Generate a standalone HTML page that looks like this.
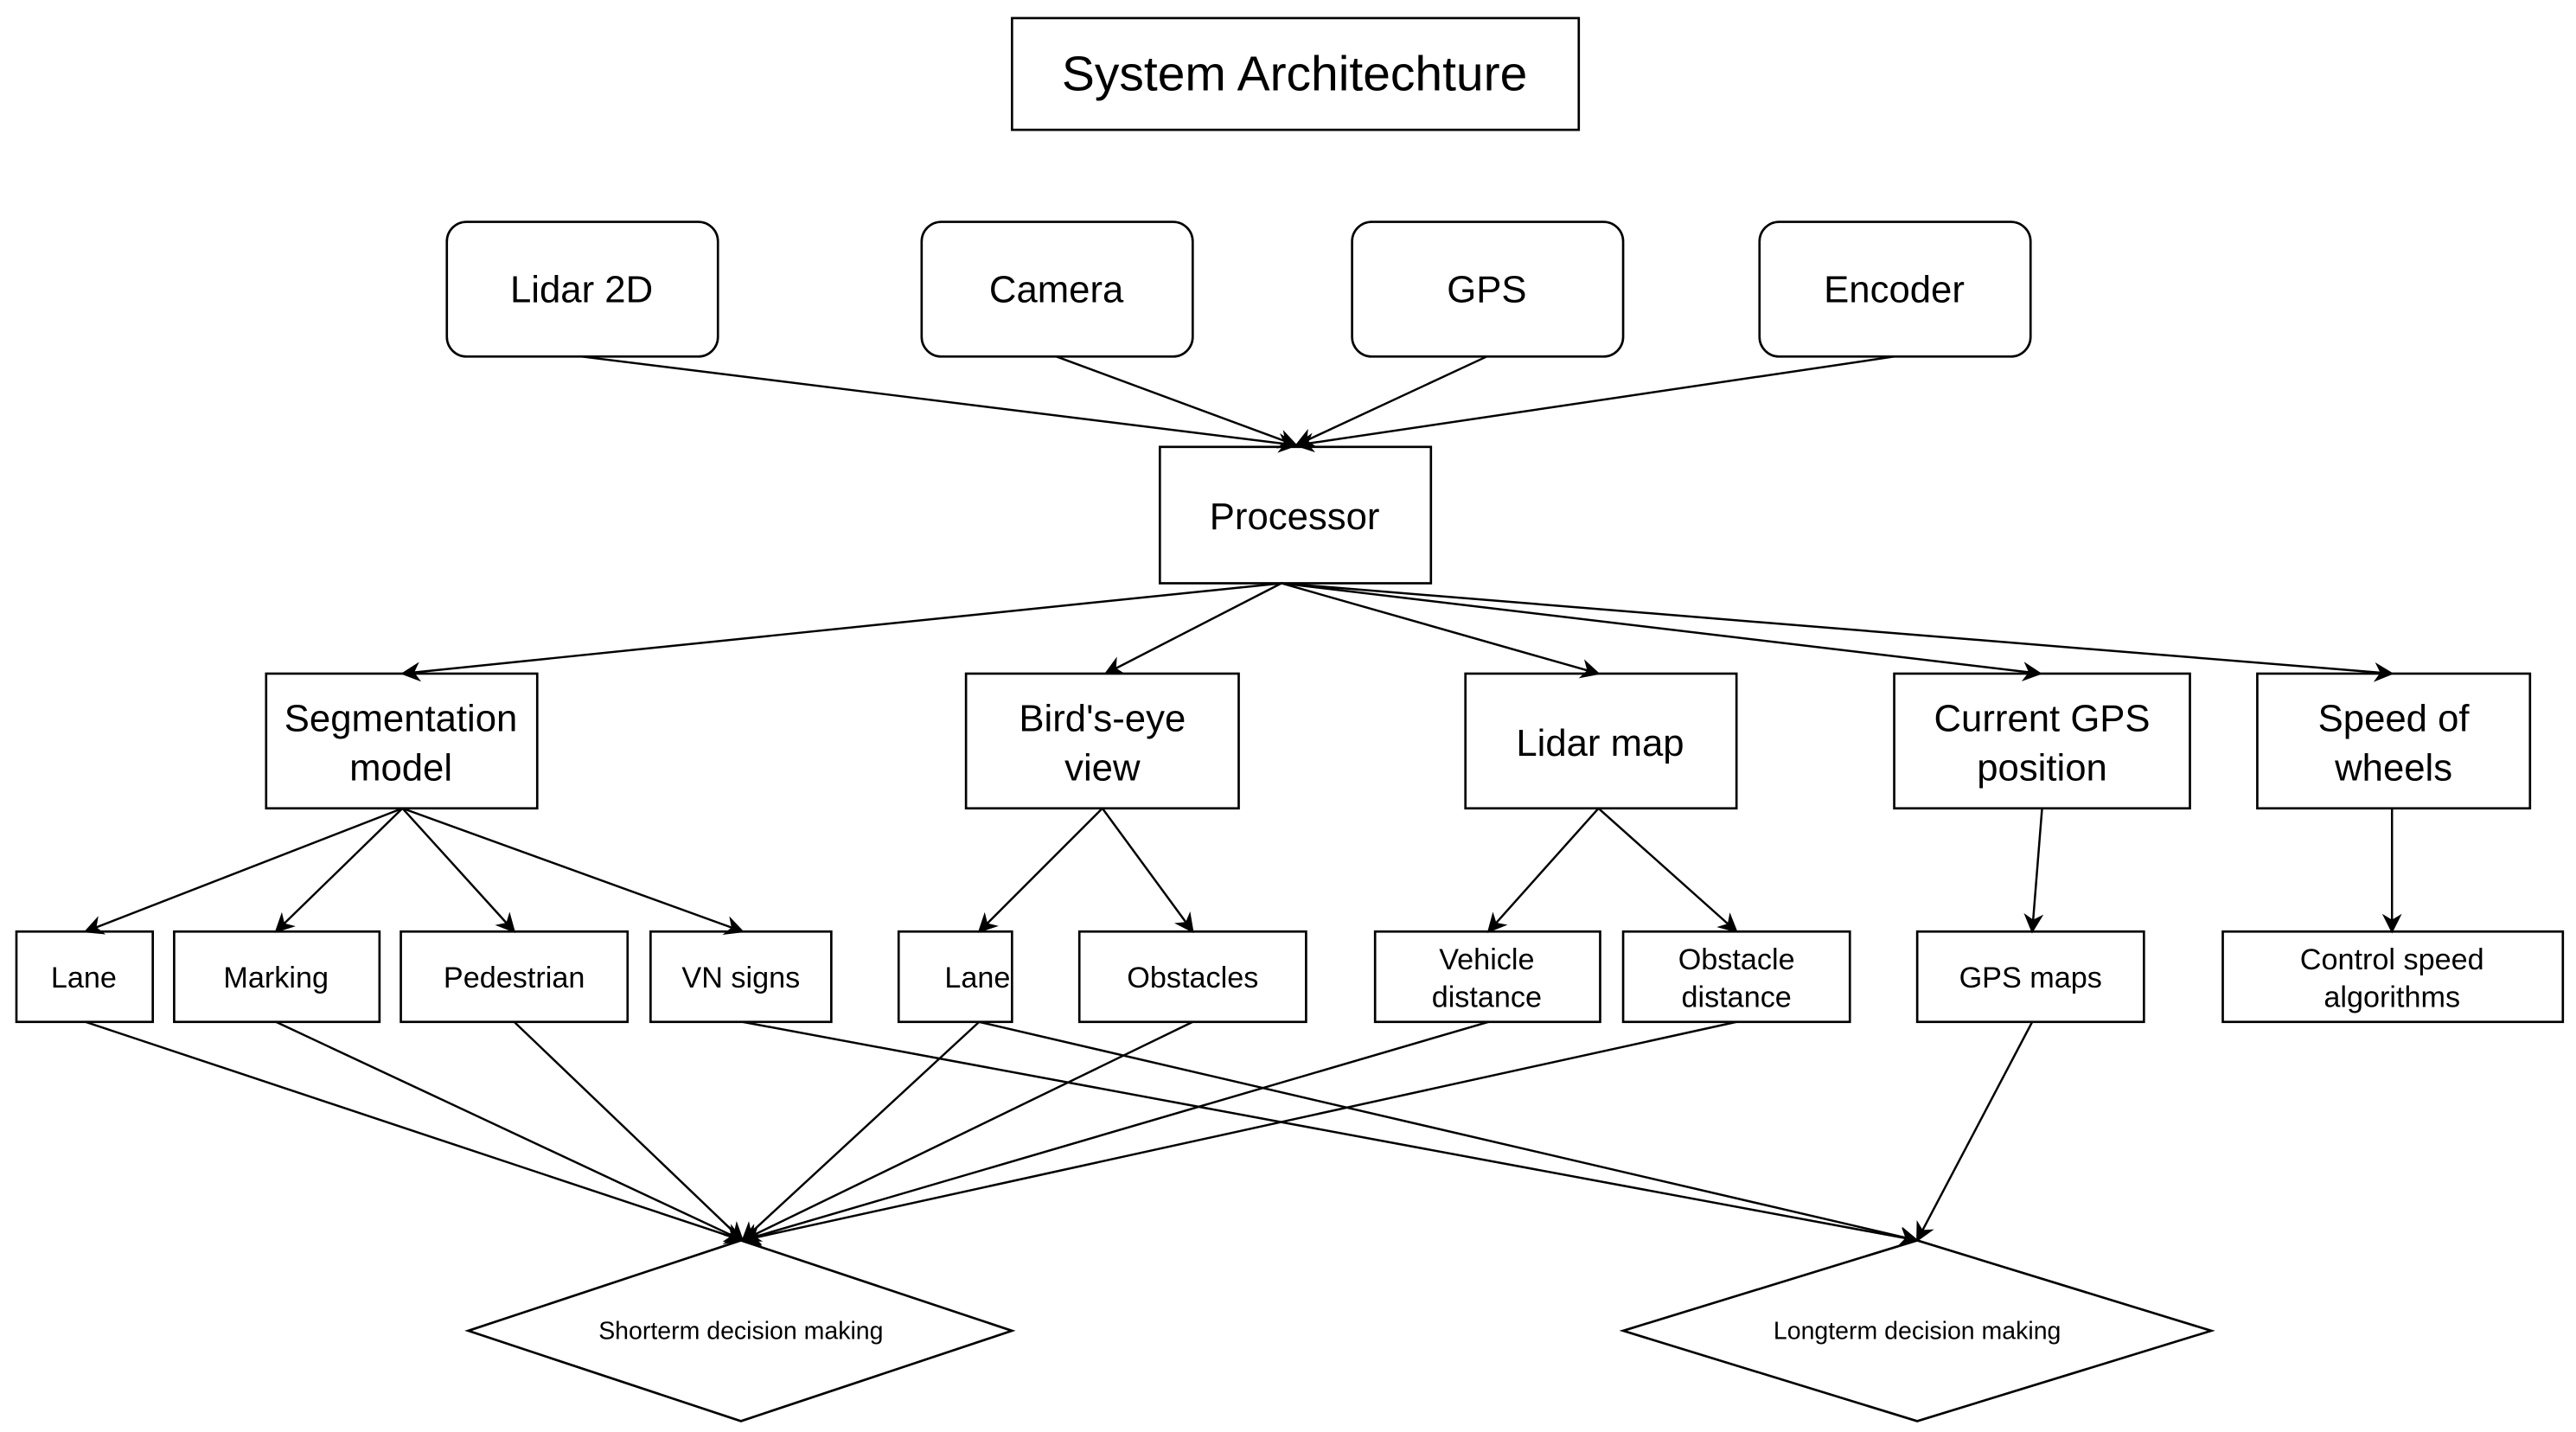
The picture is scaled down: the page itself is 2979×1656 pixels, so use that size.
<!DOCTYPE html>
<html><head><meta charset="utf-8"><style>html,body{margin:0;padding:0;background:#fff}svg{display:block}</style></head>
<body>
<svg width="2979" height="1656" viewBox="0 0 1568 871.6" xmlns="http://www.w3.org/2000/svg" font-family="Liberation Sans, sans-serif">
<defs><marker id="a" viewBox="0 0 10 10" refX="9" refY="5" markerWidth="12" markerHeight="12" markerUnits="userSpaceOnUse" orient="auto"><path d="M0,0 L10,5 L0,10 L3,5 z" fill="#000"/></marker></defs>
<rect width="1568" height="872" fill="#fff"/>
<g fill="#fff" stroke="#000" stroke-width="1.4">
<rect x="616" y="11" width="345" height="68"/>
<rect x="272" y="135" width="165" height="82" rx="12"/>
<rect x="561" y="135" width="165" height="82" rx="12"/>
<rect x="823" y="135" width="165" height="82" rx="12"/>
<rect x="1071" y="135" width="165" height="82" rx="12"/>
<rect x="706" y="272" width="165" height="83"/>
<rect x="162" y="410" width="165" height="82"/>
<rect x="588" y="410" width="166" height="82"/>
<rect x="892" y="410" width="165" height="82"/>
<rect x="1153" y="410" width="180" height="82"/>
<rect x="1374" y="410" width="166" height="82"/>
<rect x="10" y="567" width="83" height="55"/>
<rect x="106" y="567" width="125" height="55"/>
<rect x="244" y="567" width="138" height="55"/>
<rect x="396" y="567" width="110" height="55"/>
<rect x="547" y="567" width="69" height="55"/>
<rect x="657" y="567" width="138" height="55"/>
<rect x="837" y="567" width="137" height="55"/>
<rect x="988" y="567" width="138" height="55"/>
<rect x="1167" y="567" width="138" height="55"/>
<rect x="1353" y="567" width="207" height="55"/>
<polygon points="451,755 616,810 451,865 285,810"/>
<polygon points="1167,755 1346,810 1167,865 988,810"/>
</g>
<g stroke="#000" stroke-width="1.3" fill="none" marker-end="url(#a)">
<line x1="354" y1="217" x2="789" y2="271"/>
<line x1="643" y1="217" x2="789" y2="271"/>
<line x1="905" y1="217" x2="789" y2="271"/>
<line x1="1153" y1="217" x2="789" y2="271"/>
<line x1="780" y1="355" x2="245" y2="410"/>
<line x1="780" y1="355" x2="673" y2="410"/>
<line x1="780" y1="355" x2="973" y2="410"/>
<line x1="780" y1="355" x2="1242" y2="410"/>
<line x1="780" y1="355" x2="1456" y2="410"/>
<line x1="245" y1="492" x2="52" y2="567"/>
<line x1="245" y1="492" x2="168" y2="567"/>
<line x1="245" y1="492" x2="313" y2="567"/>
<line x1="245" y1="492" x2="452" y2="567"/>
<line x1="671" y1="492" x2="596" y2="567"/>
<line x1="671" y1="492" x2="726" y2="567"/>
<line x1="973" y1="492" x2="906" y2="567"/>
<line x1="973" y1="492" x2="1057" y2="567"/>
<line x1="1243" y1="492" x2="1237" y2="567"/>
<line x1="1456" y1="492" x2="1456" y2="567"/>
<line x1="52" y1="622" x2="452" y2="755"/>
<line x1="168" y1="622" x2="452" y2="755"/>
<line x1="313" y1="622" x2="452" y2="755"/>
<line x1="596" y1="622" x2="452" y2="755"/>
<line x1="726" y1="622" x2="452" y2="755"/>
<line x1="906" y1="622" x2="452" y2="755"/>
<line x1="1057" y1="622" x2="452" y2="755"/>
<line x1="452" y1="622" x2="1167" y2="755"/>
<line x1="596" y1="622" x2="1167" y2="755"/>
<line x1="1237" y1="622" x2="1167" y2="755"/>
</g>
<g fill="#000" text-anchor="middle" font-size="23">
<text x="788" y="55" font-size="30">System Architechture</text>
<text x="354" y="184">Lidar 2D</text>
<text x="643" y="184">Camera</text>
<text x="905" y="184">GPS</text>
<text x="1153" y="184">Encoder</text>
<text x="788" y="322">Processor</text>
<text x="244" y="445">Segmentation</text><text x="244" y="475">model</text>
<text x="671" y="445">Bird's-eye</text><text x="671" y="475">view</text>
<text x="974" y="460">Lidar map</text>
<text x="1243" y="445">Current GPS</text><text x="1243" y="475">position</text>
<text x="1457" y="445">Speed of</text><text x="1457" y="475">wheels</text>
<g font-size="18">
<text x="51" y="601">Lane</text>
<text x="168" y="601">Marking</text>
<text x="313" y="601">Pedestrian</text>
<text x="451" y="601">VN signs</text>
<text x="595" y="601">Lane</text>
<text x="726" y="601">Obstacles</text>
<text x="905" y="590">Vehicle</text><text x="905" y="613">distance</text>
<text x="1057" y="590">Obstacle</text><text x="1057" y="613">distance</text>
<text x="1236" y="601">GPS maps</text>
<text x="1456" y="590">Control speed</text><text x="1456" y="613">algorithms</text>
</g>
<g font-size="15">
<text x="451" y="815">Shorterm decision making</text>
<text x="1167" y="815">Longterm decision making</text>
</g>
</g>
</svg>
</body></html>
